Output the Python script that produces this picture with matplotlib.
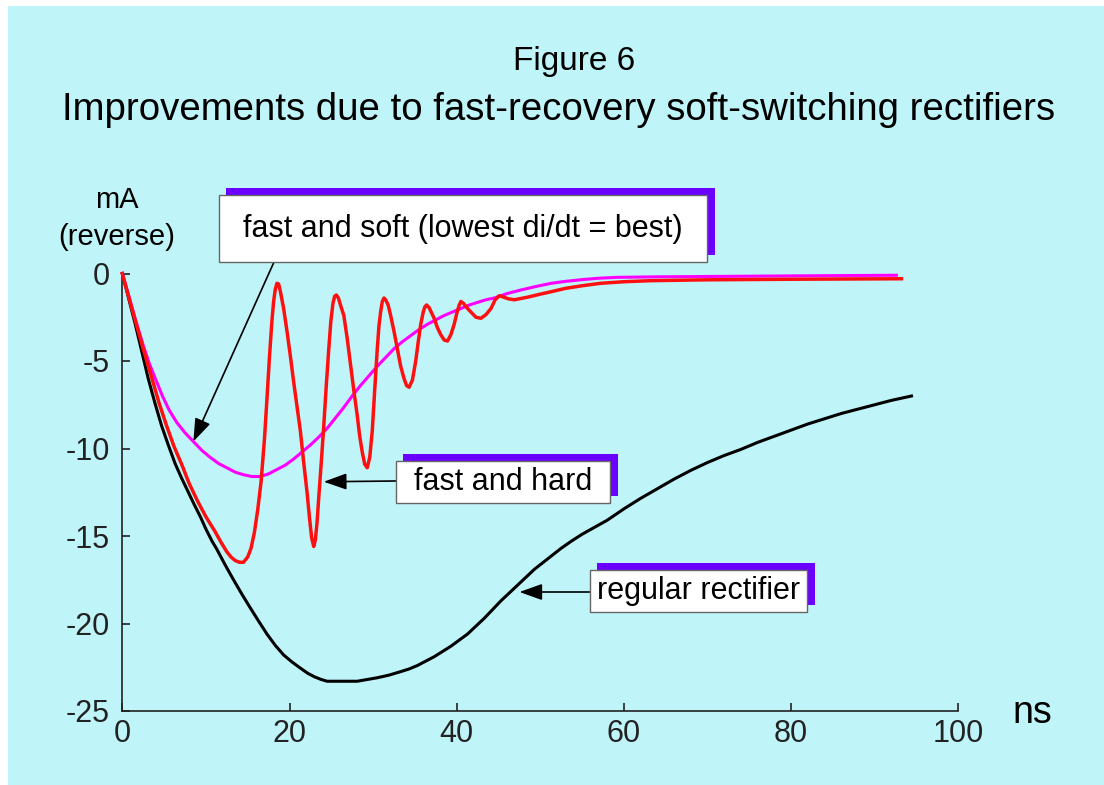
import matplotlib
matplotlib.use("Agg")
import matplotlib.pyplot as plt
from matplotlib.patches import Rectangle

plt.rcParams['font.family'] = ['Liberation Sans', 'DejaVu Sans']

# regular rectifier (black)
reg_x = [0, 0.8, 1.5, 2.3, 3.1, 3.9, 4.7, 5.5, 6.35, 7.1, 7.9, 8.6, 9.34, 10.0, 10.74,
         11.3, 12.3, 13.3, 14.3, 15.3, 16.3, 17.3, 18.3, 19.3, 20.3, 21.3, 22.2, 23.0,
         23.8, 24.5, 26, 28.1, 29.3, 30.5, 31.9, 33.3, 34.3, 35.3, 36.3, 37.3, 38.3,
         39.3, 40.3, 41.3, 42.3, 43.3, 44.3, 45.3, 46.3, 47.3, 48.3, 49.3, 50.9, 52.5,
         53.7, 55, 56.5, 58, 60, 62, 64, 66, 68, 70, 72, 74, 76, 78, 80, 82, 84, 86,
         88, 90, 92, 94.4]
reg_y = [0, -1.5, -2.8, -4.4, -6.0, -7.4, -8.7, -9.8, -10.9, -11.7, -12.5, -13.2, -13.9,
         -14.6, -15.3, -15.75, -16.65, -17.5, -18.32, -19.1, -19.86, -20.6, -21.25,
         -21.8, -22.2, -22.55, -22.85, -23.05, -23.2, -23.3, -23.3, -23.3, -23.2, -23.1,
         -22.95, -22.75, -22.6, -22.4, -22.15, -21.9, -21.6, -21.3, -20.95, -20.6,
         -20.15, -19.7, -19.2, -18.7, -18.25, -17.8, -17.35, -16.9, -16.3, -15.7, -15.3,
         -14.9, -14.5, -14.1, -13.45, -12.85, -12.3, -11.75, -11.25, -10.8, -10.4,
         -10.05, -9.65, -9.3, -8.95, -8.6, -8.3, -8.0, -7.75, -7.5, -7.25, -7.0]

# fast and soft (magenta)
soft_x = [0, 0.8, 1.5, 2.5, 3.2, 3.95, 4.8, 5.6, 6.5, 7.5, 8.5, 9.5, 10.5, 11.5, 12.5,
          13.5, 14.5, 15.5, 16.5, 17.5, 18.5, 19.5, 20.5, 21.5, 22.5, 23.5, 24.5, 25.5,
          26.5, 27.5, 28.5, 29.5, 30.5, 31.5, 32.5, 33.5, 34.5, 35.5, 36.5, 37.5, 38.5,
          39.5, 40.5, 41.5, 42.5, 43.5, 44.5, 46, 47.7, 49.5, 51.3, 53, 55, 57, 59.2, 64,
          70, 79.2, 92.6]
soft_y = [0, -1.3, -2.5, -4.1, -5.1, -6.0, -7.0, -7.8, -8.5, -9.1, -9.6, -10.1, -10.5,
          -10.85, -11.1, -11.35, -11.5, -11.6, -11.6, -11.45, -11.2, -10.95, -10.6,
          -10.2, -9.8, -9.35, -8.85, -8.25, -7.65, -7.0, -6.4, -5.85, -5.3, -4.8, -4.3,
          -3.9, -3.55, -3.2, -2.9, -2.65, -2.4, -2.2, -2.0, -1.8, -1.65, -1.5, -1.4,
          -1.15, -0.94, -0.74, -0.56, -0.45, -0.35, -0.27, -0.22, -0.19, -0.17, -0.14,
          -0.1]

# fast and hard (red)
hard_x = [0, 0.8, 1.5, 2.5, 3.55, 4.4, 5.3, 6.2, 7.1, 8.0, 9.0, 10.0, 11.1, 11.8, 12.5,
          13.0, 13.5, 14.0, 14.5, 15.0, 15.4, 15.8, 16.2, 16.6, 17.0, 17.3, 17.6, 17.9,
          18.1, 18.3, 18.5, 18.7, 18.9, 19.3, 19.7, 20.1, 20.5, 20.9, 21.3, 21.7, 22.1,
          22.4, 22.65, 22.9, 23.1, 23.3, 23.5, 23.8, 24.1, 24.4, 24.7, 24.95, 25.2, 25.4,
          25.6, 25.85, 26.1, 26.5, 26.9, 27.3, 27.7, 28.1, 28.4, 28.7, 29.0, 29.3, 29.6,
          29.9, 30.2, 30.5, 30.7, 30.9, 31.1, 31.3, 31.5, 31.8, 32.1, 32.5, 32.9, 33.3,
          33.7, 34.0, 34.3, 34.7, 35.1, 35.4, 35.7, 36.0, 36.2, 36.4, 36.7, 37.0, 37.3,
          37.7, 38.1, 38.5, 38.9, 39.3, 39.7, 40.0, 40.3, 40.5, 40.8, 41.2, 41.7, 42.3,
          42.9, 43.5, 44.1, 44.6, 45.1, 45.6, 46.2, 46.9, 48.5, 50, 51.3, 53, 55, 57.2,
          60, 63.2, 70, 79.2, 93.2]
hard_y = [0, -1.4, -2.6, -4.3, -6.0, -7.4, -8.7, -9.9, -10.9, -12.0, -13.0, -13.9,
          -14.75, -15.35, -15.9, -16.2, -16.4, -16.5, -16.5, -16.2, -15.7, -14.8, -13.5,
          -11.9, -9.5, -7.2, -4.8, -2.7, -1.6, -0.9, -0.56, -0.6, -1.0, -2.0, -3.3, -4.7,
          -6.2, -7.6, -9.0, -10.8, -12.5, -14.0, -15.1, -15.6, -15.2, -14.2, -12.8,
          -10.8, -8.7, -6.4, -4.3, -2.7, -1.7, -1.3, -1.23, -1.4, -1.8, -2.4, -3.7, -5.2,
          -6.7, -8.1, -9.3, -10.2, -10.9, -11.1, -10.5, -9.0, -6.6, -4.3, -3.0, -2.2,
          -1.6, -1.4, -1.5, -1.8, -2.4, -3.3, -4.3, -5.3, -6.0, -6.4, -6.5, -6.1, -5.0,
          -3.9, -2.9, -2.2, -1.9, -1.8, -1.95, -2.25, -2.56, -3.1, -3.5, -3.8, -3.86,
          -3.5, -2.9, -2.3, -1.8, -1.6, -1.7, -1.95, -2.2, -2.5, -2.56, -2.35, -2.0,
          -1.5, -1.27, -1.35, -1.45, -1.5, -1.35, -1.18, -1.04, -0.85, -0.7, -0.56,
          -0.47, -0.41, -0.36, -0.33, -0.3]

x_ticks = [0, 20, 40, 60, 80, 100]
y_ticks = [0, -5, -10, -15, -20, -25]

W, H = 1104, 785
fig = plt.figure(figsize=(W / 100, H / 100), dpi=100)
fig.patch.set_facecolor('white')
fig.add_artist(Rectangle((8 / W, 0), 1 - 8 / W, (H - 6) / H, transform=fig.transFigure,
                         facecolor='#bff4f9', edgecolor='none', zorder=-10))

ax = fig.add_axes([122.3 / W, 74 / H, 836 / W, 437.5 / H])
ax.set_facecolor('none')
ax.plot(reg_x, reg_y, color='black', lw=2.2, clip_on=False, zorder=3)
ax.plot(soft_x, soft_y, color='#ff00ff', lw=2.2, clip_on=False, zorder=4)
ax.plot(hard_x, hard_y, color='#ff1010', lw=2.5, clip_on=False, zorder=5)

ax.set_xlim(0, 100)
ax.set_ylim(-25, 0)
ax.set_xticks(x_ticks)
ax.set_yticks(y_ticks)
ax.set_xticklabels([str(v) for v in x_ticks])
ax.set_yticklabels([str(v) for v in y_ticks])
ax.tick_params(direction='in', length=6, width=1.2, labelsize=22, colors='#222222')
ax.tick_params(axis='x', pad=6)
ax.tick_params(axis='y', pad=9)
for s in ['top', 'right']:
    ax.spines[s].set_visible(False)
for s in ['left', 'bottom']:
    ax.spines[s].set_linewidth(1.2)
    ax.spines[s].set_color('#222222')


def fx(px):
    return px / W


def fy(py):
    return (H - py) / H


fig.text(fx(574), fy(70), 'Figure 6', ha='center', va='baseline', fontsize=24)
fig.text(fx(559), fy(120), 'Improvements due to fast-recovery soft-switching rectifiers',
         ha='center', va='baseline', fontsize=27.6)
fig.text(fx(117), fy(208), 'mA', ha='center', va='baseline', fontsize=21)
fig.text(fx(117), fy(245), '(reverse)', ha='center', va='baseline', fontsize=21)
fig.text(fx(1032), fy(713), 'ns', ha='center', va='center', fontsize=27)

boxes = [
    ('fast and soft (lowest di/dt = best)', (219, 195, 707, 262), (8.5, -9.6), (274, 262)),
    ('fast and hard', (396, 461, 610, 503), (24.1, -11.9), (396, 481)),
    ('regular rectifier', (590, 570, 807, 612), (47.5, -18.2), (590, 592)),
]
for label, (x0, y0, x1, y1), tip, tail in boxes:
    fig.add_artist(Rectangle((fx(x0 + 7), fy(y1 - 7)), (x1 - x0 + 1) / W, (y1 - y0) / H,
                             transform=fig.transFigure, facecolor='#6a00ff',
                             edgecolor='none', zorder=6))
    fig.add_artist(Rectangle((fx(x0), fy(y1)), (x1 - x0) / W, (y1 - y0) / H,
                             transform=fig.transFigure, facecolor='white',
                             edgecolor='#666666', lw=1, zorder=7))
    fig.text(fx((x0 + x1) / 2), fy((y0 + y1) / 2), label, ha='center', va='center',
             fontsize=22, zorder=8)
    ax.annotate('', xy=tip, xycoords='data', xytext=(fx(tail[0]), fy(tail[1])),
                textcoords='figure fraction',
                arrowprops=dict(arrowstyle='-|>,head_length=0.7,head_width=0.25',
                                mutation_scale=20, color='black', lw=1.2,
                                shrinkA=0, shrinkB=0), zorder=6)

fig.savefig('out.png', dpi=100)
